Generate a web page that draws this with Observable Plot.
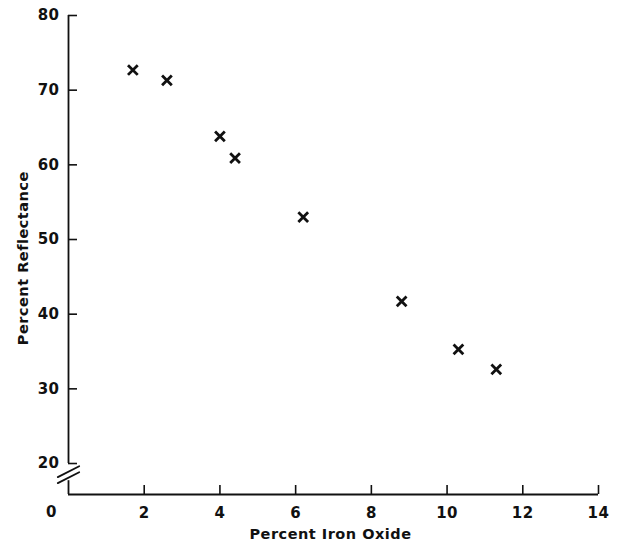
<!DOCTYPE html>
<html><head><meta charset="utf-8">
<script src="https://cdn.jsdelivr.net/npm/d3@7"></script>
<script src="https://cdn.jsdelivr.net/npm/@observablehq/plot@0.6"></script>
<style>body{margin:0;background:#fff} svg text{letter-spacing:0.5px}</style>
</head><body><div id="chart"></div>
<script>
// Data
const ironOxide   = [1.7, 2.6, 4.0, 4.4, 6.2, 8.8, 10.3, 11.3];
const reflectance = [72.7, 71.3, 63.8, 60.9, 53.0, 41.7, 35.3, 32.6];
const xTicks = [2, 4, 6, 8, 10, 12, 14];
const xOriginTick = [0];
const yTicks = [20, 30, 40, 50, 60, 70, 80];
const xDomain = [0, 14];
const yDomain = [15.85, 80];
const yBreakTop = 20, yBreakBottom = 17.7, yBreakMid = 18.5;
const xTitle = "Percent Iron Oxide";
const yTitle = "Percent Reflectance";
const yTitleAt = 47.5;

const points = ironOxide.map((x, i) => ({x, y: reflectance[i]}));
const ink = "#111";
const slash = {draw(context, l) { context.moveTo(0, 0); context.lineTo(0, -l); }};
const breakMarks = [{x: xDomain[0], y: yBreakMid}];
const yTitleRow = [{x: xDomain[0], y: yTitleAt, text: yTitle}];

const chart = Plot.plot({
  width: 619, height: 549,
  marginLeft: 68, marginRight: 21, marginTop: 15, marginBottom: 55,
  x: {domain: xDomain},
  y: {domain: yDomain},
  style: {fontFamily: "DejaVu Sans", fontSize: "15px", fontWeight: "bold", color: ink, background: "white"},
  marks: [
    Plot.ruleX([xDomain[0]], {y1: yBreakTop, y2: yDomain[1], stroke: ink, strokeWidth: 1.8}),
    Plot.ruleX([xDomain[0]], {y1: yDomain[0], y2: yBreakBottom, stroke: ink, strokeWidth: 1.8}),
    Plot.ruleY([yDomain[0]], {x1: xDomain[0], x2: xDomain[1], stroke: ink, strokeWidth: 1.8}),
    Plot.tickY(yTicks, {y: d => d, insetRight: 521, stroke: ink, strokeWidth: 1.6}),
    Plot.tickX(xTicks, {x: d => d, insetTop: 470, stroke: ink, strokeWidth: 1.6}),
    Plot.vector(breakMarks, {x: "x", y: "y", length: 24, rotate: 63, anchor: "middle", shape: slash, dy: -3, stroke: ink, strokeWidth: 1.8}),
    Plot.vector(breakMarks, {x: "x", y: "y", length: 24, rotate: 63, anchor: "middle", shape: slash, dy: 3, stroke: ink, strokeWidth: 1.8}),
    Plot.axisY(yTicks, {tickSize: 0, tickPadding: 9, label: null}),
    Plot.axisX(xTicks, {tickSize: 0, tickPadding: 13, label: null}),
    Plot.axisX(xOriginTick, {tickSize: 0, tickPadding: 12, dx: -17, label: null}),
    Plot.dot(points, {x: "x", y: "y", symbol: "times", r: 4.5, stroke: ink, strokeWidth: 2.8}),
    Plot.text([xTitle], {frameAnchor: "bottom", dx: -3, dy: 44, fontSize: 14.5, fill: ink}),
    Plot.text(yTitleRow, {x: "x", y: "y", text: "text", dx: -45, rotate: -90, fontSize: 14.5, fill: ink})
  ]
});
document.getElementById("chart").appendChild(chart);
</script>
</body></html>
